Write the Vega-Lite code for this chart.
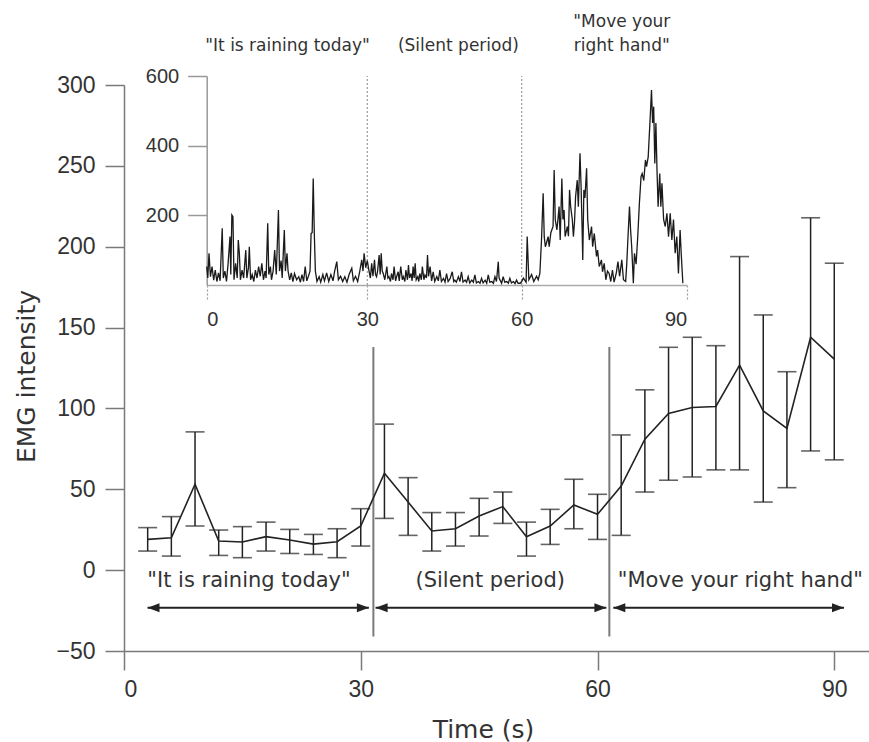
{
  "$schema": "https://vega.github.io/schema/vega-lite/v6.json",
  "width": 745,
  "height": 566,
  "autosize": {"type": "none"},
  "padding": {"left": 124, "top": 85, "right": 0, "bottom": 91},
  "background": "white",
  "config": {"view": {"stroke": null}, "font": "Liberation Sans"},
  "datasets": {
    "means": [
      {"t": 3, "mean": 19, "lo": 11.8, "hi": 26.3},
      {"t": 6, "mean": 20, "lo": 8.7, "hi": 33.1},
      {"t": 9, "mean": 53.1, "lo": 27.3, "hi": 85.5},
      {"t": 12, "mean": 18, "lo": 9.1, "hi": 24.8},
      {"t": 15, "mean": 17.4, "lo": 7.7, "hi": 26.9},
      {"t": 18, "mean": 20.7, "lo": 11.8, "hi": 29.7},
      {"t": 21, "mean": 18.6, "lo": 10.3, "hi": 25.2},
      {"t": 24, "mean": 16.1, "lo": 9.7, "hi": 22.1},
      {"t": 27, "mean": 17.6, "lo": 7.7, "hi": 25.6},
      {"t": 30, "mean": 27.3, "lo": 14.9, "hi": 38},
      {"t": 33, "mean": 59.9, "lo": 32, "hi": 90.3},
      {"t": 36, "mean": 42.1, "lo": 21.5, "hi": 57.2},
      {"t": 39, "mean": 24.2, "lo": 11.8, "hi": 35.6},
      {"t": 42, "mean": 25.6, "lo": 14.9, "hi": 35.6},
      {"t": 45, "mean": 33.5, "lo": 21.1, "hi": 44.4},
      {"t": 48, "mean": 39.3, "lo": 28.9, "hi": 48.3},
      {"t": 51, "mean": 20.7, "lo": 8.7, "hi": 29.7},
      {"t": 54, "mean": 27.3, "lo": 15.9, "hi": 37.6},
      {"t": 57, "mean": 40.3, "lo": 25.6, "hi": 56.2},
      {"t": 60, "mean": 34.5, "lo": 19, "hi": 46.9},
      {"t": 63, "mean": 52, "lo": 21.5, "hi": 83.6},
      {"t": 66, "mean": 81, "lo": 48.3, "hi": 111.5},
      {"t": 69, "mean": 96.9, "lo": 55.6, "hi": 137.8},
      {"t": 72, "mean": 100.6, "lo": 57.6, "hi": 144},
      {"t": 75, "mean": 101.2, "lo": 62, "hi": 138.8},
      {"t": 78, "mean": 126.8, "lo": 62, "hi": 193.9},
      {"t": 81, "mean": 98.5, "lo": 42.1, "hi": 157.8},
      {"t": 84, "mean": 87.6, "lo": 51, "hi": 122.7},
      {"t": 87, "mean": 144, "lo": 73.7, "hi": 217.9},
      {"t": 90, "mean": 130.5, "lo": 68.2, "hi": 189.8}
    ],
    "dividers": [
      {"t": 31.6, "y1": -41, "y2": 138},
      {"t": 61.5, "y1": -41, "y2": 138}
    ],
    "arrows": [
      {"t": 2.98, "t2": 31.03, "y": -23.3},
      {"t": 31.88, "t2": 61.12, "y": -23.3},
      {"t": 62.0, "t2": 91.23, "y": -23.3}
    ],
    "heads": [
      {"t": 2.98, "y": -23.3, "dir": "L"},
      {"t": 31.03, "y": -23.3, "dir": "R"},
      {"t": 31.88, "y": -23.3, "dir": "L"},
      {"t": 61.12, "y": -23.3, "dir": "R"},
      {"t": 62.0, "y": -23.3, "dir": "L"},
      {"t": 91.23, "y": -23.3, "dir": "R"}
    ],
    "mainLabels": [
      {"t": 15.84, "y": -10.5, "label": "\"It is raining today\""},
      {"t": 46.4, "y": -10.5, "label": "(Silent period)"},
      {"t": 78.1, "y": -10.5, "label": "\"Move your right hand\""}
    ],
    "insetLabels": [
      {"t": 15.1, "v": 672, "label": "\"It is raining today\""},
      {"t": 47.7, "v": 672, "label": "(Silent period)"},
      {"t": 78.2, "v": 741, "label": "\"Move your"},
      {"t": 78.2, "v": 672, "label": "right hand\""}
    ],
    "insetRules": [
      {"t": 30, "v1": 0, "v2": 600},
      {"t": 60, "v1": 0, "v2": 600}
    ],
    "trace": [
      {"t":0.0,"v":53},{"t":0.2,"v":20},{"t":0.43,"v":91},{"t":0.7,"v":24},{"t":1.0,"v":53},{"t":1.3,"v":14},{"t":1.6,"v":43},{"t":1.9,"v":10},{"t":2.2,"v":35},{"t":2.5,"v":12},
      {"t":2.9,"v":163},{"t":3.1,"v":20},{"t":3.4,"v":40},{"t":3.7,"v":10},{"t":4.0,"v":62},{"t":4.35,"v":139},{"t":4.5,"v":30},{"t":4.7,"v":201},{"t":4.9,"v":196},{"t":5.1,"v":15},
      {"t":5.4,"v":62},{"t":5.7,"v":20},{"t":5.9,"v":129},{"t":6.1,"v":91},{"t":6.3,"v":15},{"t":6.6,"v":43},{"t":6.9,"v":20},{"t":7.1,"v":60},{"t":7.3,"v":100},{"t":7.5,"v":20},
      {"t":7.8,"v":50},{"t":7.96,"v":110},{"t":8.2,"v":15},{"t":8.5,"v":30},{"t":8.8,"v":10},{"t":9.1,"v":43},{"t":9.4,"v":20},{"t":9.7,"v":53},{"t":10.0,"v":25},{"t":10.3,"v":62},
      {"t":10.6,"v":15},{"t":10.9,"v":40},{"t":11.1,"v":20},{"t":11.4,"v":177},{"t":11.6,"v":30},{"t":11.9,"v":53},{"t":12.1,"v":15},{"t":12.4,"v":40},{"t":12.7,"v":100},{"t":13.0,"v":30},
      {"t":13.4,"v":215},{"t":13.6,"v":40},{"t":13.9,"v":70},{"t":14.1,"v":20},{"t":14.5,"v":158},{"t":14.7,"v":40},{"t":15.0,"v":91},{"t":15.2,"v":40},{"t":15.5,"v":15},{"t":15.8,"v":35},
      {"t":16.1,"v":10},{"t":16.4,"v":33},{"t":16.8,"v":15},{"t":17.2,"v":24},{"t":17.5,"v":8},{"t":17.8,"v":30},{"t":18.1,"v":10},{"t":18.4,"v":53},{"t":18.7,"v":12},{"t":19.0,"v":25},
      {"t":19.3,"v":40},{"t":19.5,"v":148},{"t":19.7,"v":150},{"t":19.9,"v":306},{"t":20.1,"v":148},{"t":20.3,"v":40},{"t":20.6,"v":10},{"t":21.0,"v":24},{"t":21.3,"v":8},{"t":21.7,"v":30},
      {"t":22.0,"v":12},{"t":22.4,"v":35},{"t":22.8,"v":10},{"t":23.2,"v":30},{"t":23.6,"v":12},{"t":23.9,"v":40},{"t":24.3,"v":67},{"t":24.6,"v":15},{"t":25.0,"v":25},{"t":25.4,"v":10},
      {"t":25.8,"v":24},{"t":26.2,"v":8},{"t":26.6,"v":30},{"t":27.1,"v":48},{"t":27.4,"v":12},{"t":27.8,"v":25},{"t":28.2,"v":10},{"t":28.6,"v":40},{"t":28.96,"v":72},{"t":29.2,"v":40},
      {"t":29.4,"v":91},{"t":29.7,"v":50},{"t":30.0,"v":70},{"t":30.3,"v":43},{"t":30.6,"v":20},{"t":30.85,"v":62},{"t":31.1,"v":25},{"t":31.4,"v":72},{"t":31.6,"v":30},{"t":31.8,"v":24},
      {"t":32.0,"v":40},{"t":32.3,"v":86},{"t":32.5,"v":30},{"t":32.7,"v":91},{"t":32.9,"v":40},{"t":33.1,"v":33},{"t":33.4,"v":15},{"t":33.8,"v":53},{"t":34.0,"v":20},{"t":34.2,"v":24},
      {"t":34.5,"v":10},{"t":34.7,"v":33},{"t":35.0,"v":15},{"t":35.2,"v":53},{"t":35.5,"v":12},{"t":35.7,"v":24},{"t":36.0,"v":38},{"t":36.2,"v":12},{"t":36.5,"v":53},{"t":36.8,"v":15},
      {"t":37.0,"v":24},{"t":37.3,"v":10},{"t":37.5,"v":43},{"t":37.8,"v":15},{"t":38.0,"v":57},{"t":38.2,"v":20},{"t":38.5,"v":33},{"t":38.7,"v":12},{"t":38.9,"v":53},{"t":39.1,"v":20},
      {"t":39.3,"v":62},{"t":39.5,"v":15},{"t":39.8,"v":24},{"t":40.0,"v":10},{"t":40.2,"v":33},{"t":40.5,"v":15},{"t":40.7,"v":53},{"t":41.0,"v":15},{"t":41.2,"v":29},{"t":41.5,"v":20},
      {"t":41.7,"v":86},{"t":41.9,"v":25},{"t":42.2,"v":53},{"t":42.5,"v":12},{"t":42.8,"v":38},{"t":43.1,"v":10},{"t":43.5,"v":24},{"t":43.8,"v":12},{"t":44.1,"v":43},{"t":44.4,"v":10},
      {"t":44.8,"v":19},{"t":45.1,"v":8},{"t":45.4,"v":33},{"t":45.7,"v":10},{"t":46.1,"v":19},{"t":46.5,"v":38},{"t":46.8,"v":10},{"t":47.0,"v":14},{"t":47.3,"v":8},{"t":47.7,"v":24},
      {"t":48.0,"v":10},{"t":48.3,"v":38},{"t":48.6,"v":8},{"t":49.0,"v":14},{"t":49.3,"v":8},{"t":49.6,"v":24},{"t":49.9,"v":6},{"t":50.3,"v":14},{"t":50.6,"v":8},{"t":50.9,"v":29},
      {"t":51.2,"v":6},{"t":51.6,"v":10},{"t":51.9,"v":5},{"t":52.2,"v":19},{"t":52.5,"v":6},{"t":52.9,"v":14},{"t":53.2,"v":5},{"t":53.5,"v":29},{"t":53.8,"v":8},{"t":54.2,"v":10},
      {"t":54.5,"v":5},{"t":54.8,"v":24},{"t":55.1,"v":10},{"t":55.45,"v":67},{"t":55.6,"v":20},{"t":55.8,"v":14},{"t":56.1,"v":5},{"t":56.4,"v":24},{"t":56.7,"v":8},{"t":57.1,"v":10},
      {"t":57.4,"v":5},{"t":57.7,"v":19},{"t":58.0,"v":6},{"t":58.4,"v":10},{"t":58.7,"v":4},{"t":59.0,"v":14},{"t":59.3,"v":5},{"t":59.7,"v":5},{"t":60.0,"v":10},{"t":60.3,"v":20},
      {"t":60.8,"v":8},{"t":61.0,"v":139},{"t":61.3,"v":15},{"t":61.8,"v":30},{"t":62.2,"v":10},{"t":62.7,"v":25},{"t":63.0,"v":15},{"t":63.3,"v":33},{"t":63.6,"v":129},{"t":63.9,"v":263},
      {"t":64.1,"v":138},{"t":64.3,"v":110},{"t":64.5,"v":120},{"t":64.8,"v":139},{"t":65.0,"v":110},{"t":65.3,"v":150},{"t":65.7,"v":168},{"t":65.9,"v":330},{"t":66.1,"v":188},{"t":66.4,"v":158},
      {"t":66.6,"v":190},{"t":66.8,"v":225},{"t":67.0,"v":129},{"t":67.3,"v":306},{"t":67.5,"v":188},{"t":67.7,"v":215},{"t":67.9,"v":139},{"t":68.3,"v":168},{"t":68.5,"v":140},{"t":68.7,"v":273},
      {"t":68.9,"v":225},{"t":69.2,"v":188},{"t":69.4,"v":139},{"t":69.6,"v":180},{"t":69.8,"v":254},{"t":70.1,"v":301},{"t":70.3,"v":225},{"t":70.6,"v":378},{"t":70.8,"v":282},{"t":71.0,"v":150},
      {"t":71.1,"v":72},{"t":71.3,"v":273},{"t":71.5,"v":250},{"t":71.8,"v":335},{"t":72.0,"v":188},{"t":72.3,"v":129},{"t":72.7,"v":168},{"t":72.9,"v":110},{"t":73.2,"v":148},{"t":73.6,"v":82},
      {"t":73.8,"v":100},{"t":74.1,"v":53},{"t":74.5,"v":72},{"t":74.7,"v":38},{"t":75.0,"v":62},{"t":75.3,"v":15},{"t":75.6,"v":40},{"t":75.9,"v":33},{"t":76.2,"v":10},{"t":76.5,"v":43},
      {"t":76.8,"v":8},{"t":77.2,"v":35},{"t":77.5,"v":67},{"t":77.8,"v":25},{"t":78.2,"v":72},{"t":78.5,"v":15},{"t":78.9,"v":10},{"t":79.1,"v":60},{"t":79.3,"v":129},{"t":79.6,"v":225},
      {"t":79.8,"v":158},{"t":80.0,"v":110},{"t":80.3,"v":5},{"t":80.5,"v":91},{"t":80.8,"v":60},{"t":81.1,"v":139},{"t":81.4,"v":235},{"t":81.7,"v":311},{"t":81.9,"v":320},{"t":82.2,"v":300},
      {"t":82.5,"v":359},{"t":82.7,"v":340},{"t":83.0,"v":368},{"t":83.4,"v":493},{"t":83.6,"v":560},{"t":83.8,"v":465},{"t":84.0,"v":512},{"t":84.2,"v":349},{"t":84.4,"v":465},{"t":84.6,"v":330},
      {"t":84.8,"v":225},{"t":85.1,"v":320},{"t":85.3,"v":225},{"t":85.5,"v":292},{"t":85.8,"v":188},{"t":86.1,"v":168},{"t":86.4,"v":206},{"t":86.7,"v":139},{"t":87.0,"v":206},{"t":87.3,"v":129},
      {"t":87.6,"v":188},{"t":87.9,"v":91},{"t":88.2,"v":139},{"t":88.5,"v":33},{"t":88.8,"v":158},{"t":89.0,"v":91},{"t":89.3,"v":5}
    ]
  },
  "layer": [
    {
      "data": {"name": "dividers"},
      "mark": {"type": "rule", "color": "#7a7a7a", "strokeWidth": 2},
      "encoding": {
        "x": {"field": "t", "type": "quantitative",
          "scale": {"domain": [0, 94.4], "nice": false, "zero": false},
          "axis": {
            "orient": "bottom", "values": [0, 30, 60, 90], "tickSize": 19, "tickWidth": 1.5, "domainWidth": 1.5,
            "domainColor": "#7a7a7a", "tickColor": "#7a7a7a", "grid": false,
            "labelFont": "Liberation Sans", "labelFontSize": 23, "labelColor": "#333", "labelPadding": 8,
            "title": "Time (s)", "titleFont": "DejaVu Sans", "titleFontSize": 25, "titleFontWeight": "normal",
            "titleColor": "#333", "titleX": 359, "titleY": 86, "titleBaseline": "alphabetic"
          }},
        "y": {"field": "y1", "type": "quantitative",
          "scale": {"domain": [-50, 300], "nice": false, "zero": false},
          "axis": {
            "orient": "left", "values": [-50, 0, 50, 100, 150, 200, 250, 300], "tickSize": 19, "tickWidth": 1.5, "domainWidth": 1.5,
            "domainColor": "#7a7a7a", "tickColor": "#7a7a7a", "grid": false,
            "labelFont": "Liberation Sans", "labelFontSize": 23, "labelColor": "#333", "labelPadding": 10,
            "title": "EMG intensity", "titleFont": "DejaVu Sans", "titleFontSize": 25, "titleFontWeight": "normal",
            "titleColor": "#333", "titleX": -90, "titleY": 291, "titleBaseline": "alphabetic"
          }},
        "y2": {"field": "y2"}
      }
    },
    {
      "data": {"name": "means"},
      "mark": {"type": "rule", "color": "#222", "strokeWidth": 1.5},
      "encoding": {
        "x": {"field": "t", "type": "quantitative", "scale": {"domain": [0, 94.4], "nice": false, "zero": false}, "axis": null},
        "y": {"field": "lo", "type": "quantitative", "scale": {"domain": [-50, 300], "nice": false, "zero": false}, "axis": null},
        "y2": {"field": "hi"}
      }
    },
    {
      "data": {"name": "means"},
      "mark": {"type": "tick", "orient": "horizontal", "color": "#222", "size": 19, "thickness": 1.6},
      "encoding": {
        "x": {"field": "t", "type": "quantitative", "scale": {"domain": [0, 94.4], "nice": false, "zero": false}, "axis": null},
        "y": {"field": "lo", "type": "quantitative", "scale": {"domain": [-50, 300], "nice": false, "zero": false}, "axis": null}
      }
    },
    {
      "data": {"name": "means"},
      "mark": {"type": "tick", "orient": "horizontal", "color": "#222", "size": 19, "thickness": 1.6},
      "encoding": {
        "x": {"field": "t", "type": "quantitative", "scale": {"domain": [0, 94.4], "nice": false, "zero": false}, "axis": null},
        "y": {"field": "hi", "type": "quantitative", "scale": {"domain": [-50, 300], "nice": false, "zero": false}, "axis": null}
      }
    },
    {
      "data": {"name": "means"},
      "mark": {"type": "line", "color": "#222", "strokeWidth": 1.6},
      "encoding": {
        "x": {"field": "t", "type": "quantitative", "scale": {"domain": [0, 94.4], "nice": false, "zero": false}, "axis": null},
        "y": {"field": "mean", "type": "quantitative", "scale": {"domain": [-50, 300], "nice": false, "zero": false}, "axis": null}
      }
    },
    {
      "data": {"name": "arrows"},
      "mark": {"type": "rule", "color": "#222", "strokeWidth": 2},
      "encoding": {
        "x": {"field": "t", "type": "quantitative", "scale": {"domain": [0, 94.4], "nice": false, "zero": false}, "axis": null},
        "x2": {"field": "t2"},
        "y": {"field": "y", "type": "quantitative", "scale": {"domain": [-50, 300], "nice": false, "zero": false}, "axis": null}
      }
    },
    {
      "data": {"name": "heads"},
      "mark": {"type": "point", "filled": true, "color": "#222", "opacity": 1, "size": 100},
      "encoding": {
        "x": {"field": "t", "type": "quantitative", "scale": {"domain": [0, 94.4], "nice": false, "zero": false}, "axis": null},
        "y": {"field": "y", "type": "quantitative", "scale": {"domain": [-50, 300], "nice": false, "zero": false}, "axis": null},
        "shape": {"field": "dir", "type": "nominal", "legend": null,
          "scale": {"domain": ["L", "R"], "range": ["M0,0L2.4,-0.9L2.4,0.9Z", "M0,0L-2.4,-0.9L-2.4,0.9Z"]}}
      }
    },
    {
      "data": {"name": "mainLabels"},
      "mark": {"type": "text", "font": "DejaVu Sans", "fontSize": 21, "color": "#333", "align": "center", "baseline": "alphabetic"},
      "encoding": {
        "x": {"field": "t", "type": "quantitative", "scale": {"domain": [0, 94.4], "nice": false, "zero": false}, "axis": null},
        "y": {"field": "y", "type": "quantitative", "scale": {"domain": [-50, 300], "nice": false, "zero": false}, "axis": null},
        "text": {"field": "label"}
      }
    },
    {
      "data": {"name": "insetRules"},
      "mark": {"type": "rule", "color": "#999", "strokeWidth": 1.2, "strokeDash": [2, 2]},
      "encoding": {
        "x": {"field": "t", "type": "quantitative",
          "scale": {"domain": [0, 30, 60, 90], "range": [82.7, 243.3, 397.7, 562.7], "nice": false, "zero": false},
          "axis": {
            "orient": "bottom", "offset": -366, "values": [0, 30, 60, 90], "tickSize": 16, "tickDash": [2, 2],
            "tickColor": "#999", "tickWidth": 1.2, "domainColor": "#aaa", "domainWidth": 1.5, "grid": false,
            "labelFont": "Liberation Sans", "labelFontSize": 20, "labelColor": "#333", "labelPadding": 8, "title": null
          }},
        "y": {"field": "v1", "type": "quantitative",
          "scale": {"domain": [0, 600], "range": [200, -9], "nice": false, "zero": false},
          "axis": {
            "orient": "left", "offset": -82.7, "values": [200, 400, 600], "tickSize": 19,
            "tickColor": "#999", "tickWidth": 1.5, "domainColor": "#999", "domainWidth": 1.5, "grid": false,
            "labelFont": "Liberation Sans", "labelFontSize": 20, "labelColor": "#333", "labelPadding": 9, "title": null
          }},
        "y2": {"field": "v2"}
      }
    },
    {
      "data": {"name": "trace"},
      "mark": {"type": "line", "color": "#1a1a1a", "strokeWidth": 1.3},
      "encoding": {
        "x": {"field": "t", "type": "quantitative",
          "scale": {"domain": [0, 30, 60, 90], "range": [82.7, 243.3, 397.7, 562.7], "nice": false, "zero": false}, "axis": null},
        "y": {"field": "v", "type": "quantitative",
          "scale": {"domain": [0, 600], "range": [200, -9], "nice": false, "zero": false}, "axis": null}
      }
    },
    {
      "data": {"name": "insetLabels"},
      "mark": {"type": "text", "font": "DejaVu Sans", "fontSize": 17, "color": "#333", "align": "center", "baseline": "alphabetic"},
      "encoding": {
        "x": {"field": "t", "type": "quantitative",
          "scale": {"domain": [0, 30, 60, 90], "range": [82.7, 243.3, 397.7, 562.7], "nice": false, "zero": false}, "axis": null},
        "y": {"field": "v", "type": "quantitative",
          "scale": {"domain": [0, 600], "range": [200, -9], "nice": false, "zero": false}, "axis": null},
        "text": {"field": "label"}
      }
    }
  ],
  "resolve": {"scale": {"x": "independent", "y": "independent"}, "axis": {"x": "independent", "y": "independent"}}
}
